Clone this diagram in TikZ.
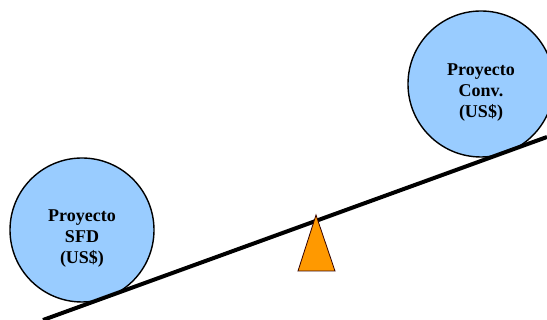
\documentclass[tikz,border=0pt]{standalone}
\usepackage{fontspec}
\setmainfont{Liberation Serif}[BoldFont={Liberation Serif Bold}]
\usepackage{tikz}
\usetikzlibrary{calc}
\definecolor{celeste}{RGB}{153,204,255}
\definecolor{naranja}{RGB}{255,153,0}

\begin{document}
\begin{tikzpicture}[x=1pt,y=1pt,
    platillo/.style={circle,draw=black,line width=1.4pt,fill=celeste,inner sep=0pt},
    rotulo/.style={align=center,inner sep=0pt,font=\rmfamily\bfseries\fontsize{18}{21}\selectfont}]

    % Marco de la figura
    \useasboundingbox (0,0) rectangle (547,320);

    % Circulos de cada proyecto
    \node[platillo,minimum size=144pt] (sfd) at (82,90) {};
    \node[platillo,minimum size=146pt] (conv) at (481,236) {};

    % Textos dentro de los circulos
    \node[rotulo] (tsfd) at ([yshift=-9pt]sfd.center) {Proyecto\\SFD\\(US\$)};
    \node[rotulo] (tconv) at ([yshift=-9pt]conv.center) {Proyecto\\Conv.\\(US\$)};

    % Barra de la balanza
    \coordinate (izq) at (43,0);
    \coordinate (der) at (547,183);
    \draw[line width=4pt] (izq)--(der);

    % Punto de apoyo (triangulo naranja)
    \coordinate (apoyo) at (316,105);
    \draw[fill=naranja,draw=black!80!red,line width=0.8pt] (apoyo)--(335,49)--(298,49)--cycle;

\end{tikzpicture}
\end{document}
